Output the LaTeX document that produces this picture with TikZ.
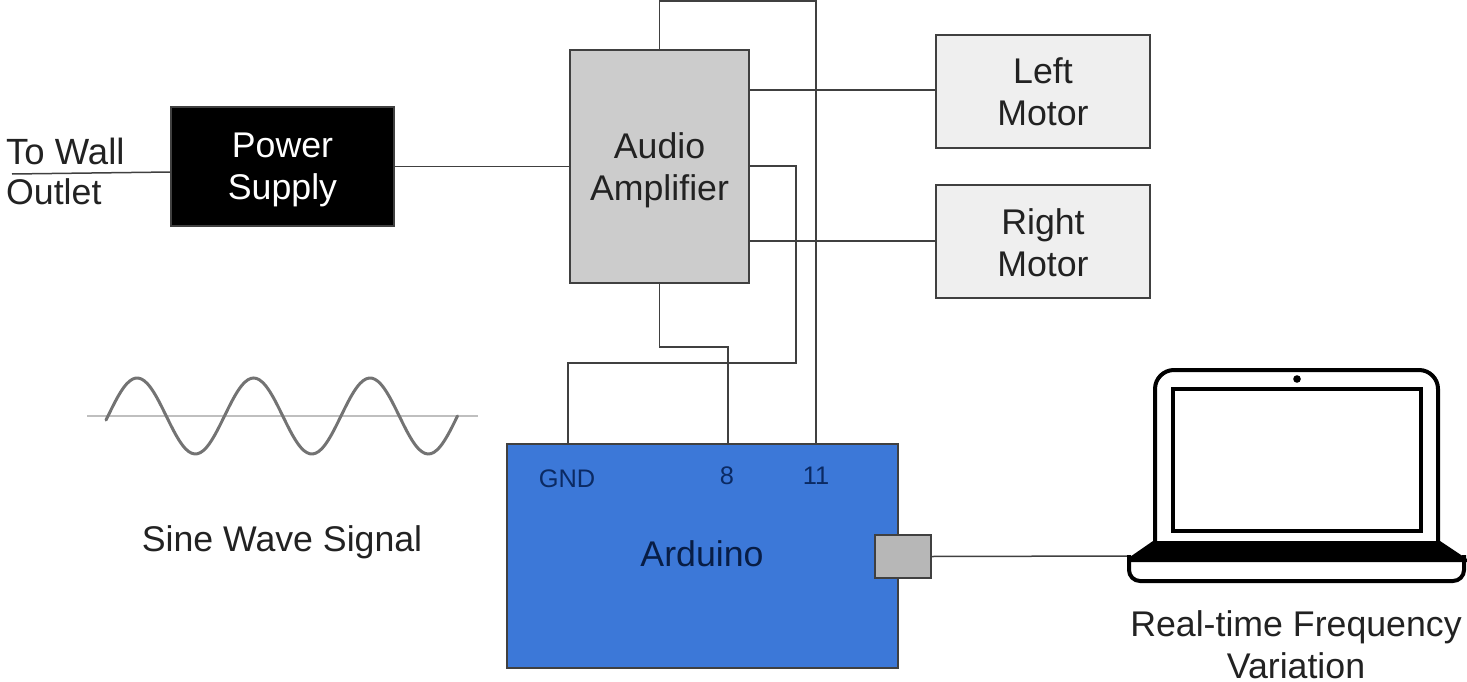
\documentclass[tikz,border=0pt]{standalone}
\usepackage{fontspec}
\setmainfont{Liberation Sans}
\definecolor{wirecol}{HTML}{404040}
\definecolor{ampcol}{HTML}{CCCCCC}
\definecolor{motorcol}{HTML}{EFEFEF}
\definecolor{boardcol}{HTML}{3C78D8}
\definecolor{pincol}{HTML}{0B2A63}
\definecolor{portcol}{HTML}{B7B7B7}
\definecolor{textcol}{HTML}{222222}
\tikzset{
  wire/.style={draw=wirecol,line width=1.5pt},
  box/.style={draw=wirecol,line width=1.2pt,inner sep=0pt,align=center,text=textcol,
    font=\fontsize{35.7}{42}\selectfont},
  label/.style={inner sep=0pt,align=center,text=textcol,font=\fontsize{35.7}{42}\selectfont},
  pin/.style={inner sep=0pt,text=pincol,font=\fontsize{25.4}{28}\selectfont},
  laptop/.style={draw=black,line width=4pt,fill=white}
}
\begin{document}
\begin{tikzpicture}[x=1pt,y=-1pt]
\useasboundingbox (0,0) rectangle (1467,682);
% Drawing blocks
\node[box,fill=black,text=white,minimum width=223pt,minimum height=119pt] (power) at (282.5,166.5) {Power\\\smash{Supply}};
\node[box,fill=ampcol,minimum width=179pt,minimum height=233pt] (amp) at (659.5,166.5) {Audio\\\smash{Amplifier}};
\node[box,fill=motorcol,minimum width=214pt,minimum height=113pt] (left) at (1043,91.5) {Left\\Motor};
\node[box,fill=motorcol,minimum width=214pt,minimum height=113pt] (right) at (1043,241.5) {};
\node[box,fill=boardcol,minimum width=391pt,minimum height=224pt] (arduino) at (702.5,556) {};
\node[box,fill=portcol,minimum width=56pt,minimum height=43pt] (port) at (903,556.5) {};
% Drawing labels
\node[label] (rightname) at (1043,243) {Right\\Motor};
\node[label,text=pincol!70!black] (board) at (702,554) {Arduino};
\node[pin] (gnd) at (567,479) {GND};
\node[pin] (eight) at (727,476) {8};
\node[pin] (eleven) at (816,476) {11};
\node[label,anchor=west,font=\fontsize{36.5}{42}\selectfont] (wall) at (6,151) {To Wall};
\node[label,anchor=west] (outlet) at (6,192) {Outlet};
\node[label] (signal) at (282,542) {Sine Wave Signal};
\node[label] (realtime) at (1296,645) {Real-time Frequency\\Variation};
% Drawing wires
\coordinate (plug) at (12,174);
\coordinate (powerin) at (171,172);
\coordinate (gndpin) at (568,444);
\coordinate (eightpin) at (728,444);
\coordinate (elevenpin) at (816,444);
\coordinate (ampgnd) at (749,166);
\coordinate (ampleft) at (749,90);
\coordinate (ampright) at (749,241);
\coordinate (laptopin) at (1128,556);
\draw[wire] (plug) -- (powerin);
\draw[wire] (power.east) -- (amp.west);
\draw[wire] (amp.north) |- (816,1) -- (elevenpin);
\draw[wire] (ampleft) -- (ampleft -| left.west);
\draw[wire] (ampright) -- (ampright -| right.west);
\draw[wire] (ampgnd) -| (796,363) -| (gndpin);
\draw[wire] (amp.south) |- (728,347) -- (eightpin);
\draw[wire] (port.east) -- (laptopin);
% Drawing sine wave
\draw[draw=black!25,line width=2.5pt] (87,416) -- (478,416);
\draw[draw=black!55,line width=3pt,line cap=round] plot[domain=106:457.5,samples=120,smooth] (\x,{416-38*sin((\x-108)/116.5*360)});
% Drawing laptop
\draw[laptop,rounded corners=19pt] (1155,542) -- (1155,370) -- (1438,370) -- (1438,542);
\draw[line width=4pt] (1173,389) rectangle (1421,531);
\fill (1297,379) circle (3.8pt);
\draw[laptop] (1129,555) [rounded corners=11pt] -- (1129,581) -- (1464,581) [sharp corners] -- (1464,555);
\fill (1153,541) -- (1440,541) -- (1467,559) -- (1467,562) -- (1127,562) -- (1127,559) -- cycle;
\end{tikzpicture}
\end{document}
